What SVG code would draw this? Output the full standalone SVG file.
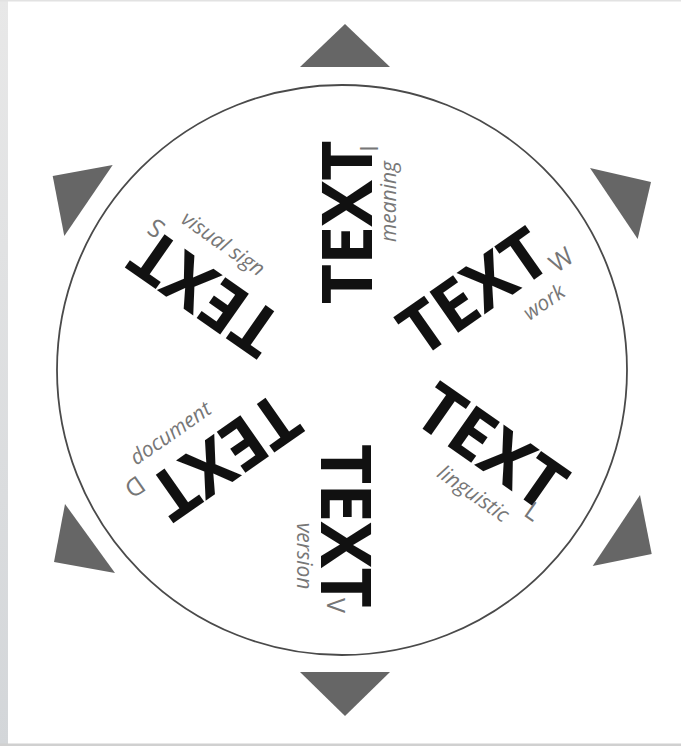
<svg xmlns="http://www.w3.org/2000/svg" width="681" height="746" viewBox="0 0 681 746">
<defs>
<linearGradient id="strip" x1="0" y1="0" x2="0" y2="1">
<stop offset="0" stop-color="#e8e8e8"/>
<stop offset="1" stop-color="#d3d6d9"/>
</linearGradient>
<style>
.big{font-family:"Open Sans","Liberation Sans",sans-serif;font-weight:bold;font-size:70px;fill:#111;text-anchor:middle}
.sub{font-family:"Open Sans","Liberation Sans",sans-serif;font-size:25px;fill:#767676;text-anchor:middle}
.lab{font-family:"Open Sans","Liberation Sans",sans-serif;font-style:italic;font-size:21px;fill:#777;text-anchor:middle}
.tri{fill:#666}
</style>
</defs>
<rect x="0" y="0" width="681" height="746" fill="#fff"/>
<rect x="0" y="0" width="8" height="746" fill="url(#strip)"/>
<rect x="0" y="0" width="681" height="1.5" fill="#e2e2e2"/>
<rect x="0" y="743.5" width="681" height="2.5" fill="#d0d0d0"/>

<g id="frame">
<circle cx="342" cy="370" r="285" fill="none" stroke="#4a4a4a" stroke-width="1.8"/>
</g>

<g id="arrows">
<polygon class="tri" points="300,67 390,67 345,24"/>
<polygon class="tri" points="300,672 390,672 345,716"/>
<polygon class="tri" points="52.7,176 112.7,165 64.3,236"/>
<polygon class="tri" points="590,168 651,182 637.7,239"/>
<polygon class="tri" points="65,504 54,562 115,573"/>
<polygon class="tri" points="640,495 651.7,554 592.7,566"/>
</g>

<g id="text-meaning">
<text class="big" transform="translate(346.7,222.5) rotate(-90)" x="0" y="25" textLength="164" lengthAdjust="spacing">TEXT</text>
<text class="sub" transform="translate(369,148.5) rotate(-90)" y="9">I</text>
<text class="lab" transform="translate(390.5,201.5) rotate(-90)" y="5">meaning</text>
</g>

<g id="text-work">
<text class="big" transform="translate(473.5,291.5) rotate(-35)" x="0" y="25" textLength="164" lengthAdjust="spacing">TEXT</text>
<text class="sub" transform="translate(561,259.5) rotate(-35)" y="9">W</text>
<text class="lab" transform="translate(543.5,301.5) rotate(-35)" y="8">work</text>
</g>

<g id="text-linguistic">
<text class="big" transform="translate(491.7,446.7) rotate(35)" x="0" y="25" textLength="164" lengthAdjust="spacing">TEXT</text>
<text class="sub" transform="translate(533,511) rotate(35)" y="9">L</text>
<text class="lab" transform="translate(472.5,495) rotate(35)" y="5.5">linguistic</text>
</g>

<g id="text-version">
<text class="big" transform="translate(345.8,525.8) rotate(90)" x="0" y="25" textLength="164" lengthAdjust="spacing">TEXT</text>
<text class="sub" transform="translate(336,605.5) rotate(90)" y="9">V</text>
<text class="lab" transform="translate(304.5,556) rotate(90)" y="7.5">version</text>
</g>

<g id="text-document">
<text class="big" transform="translate(225,456.7) rotate(145)" x="0" y="25" textLength="164" lengthAdjust="spacing">TEXT</text>
<text class="sub" transform="translate(135,487) rotate(145)" y="9">D</text>
<text class="lab" transform="translate(170,432.5) rotate(-35)" y="8">document</text>
</g>

<g id="text-visual-sign">
<text class="big" transform="translate(205,293.3) rotate(215)" x="0" y="25" textLength="164" lengthAdjust="spacing">TEXT</text>
<text class="sub" transform="translate(156,228.5) rotate(215)" y="9">S</text>
<text class="lab" transform="translate(222.3,245) rotate(35)" y="5.5">visual sign</text>
</g>
</svg>
